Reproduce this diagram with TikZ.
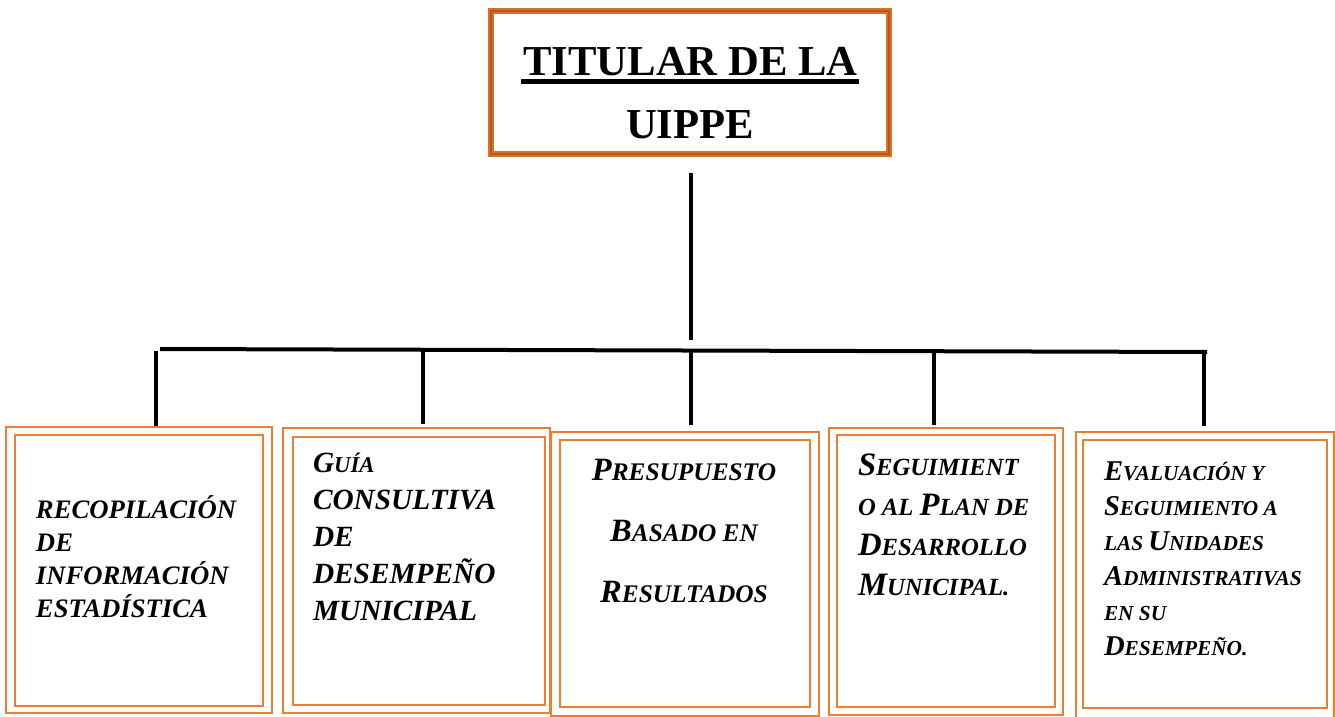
\documentclass[tikz,border=0pt]{standalone}
\usepackage{fontspec}
\setmainfont{Liberation Serif}
\definecolor{boxorange}{RGB}{237,125,49}
\definecolor{titorange}{RGB}{214,112,48}
\definecolor{titdark}{RGB}{190,84,20}
\newcommand\sm[2]{{\fontsize{#1}{#1}\selectfont #2}}
\tikzset{
  conn/.style={line width=3pt, black},
  outerb/.style={draw=boxorange, line width=1.5pt},
  innerb/.style={draw=boxorange, line width=2.2pt},
  txt/.style={inner sep=0pt, outer sep=0pt, text=black},
}
\begin{document}
\begin{tikzpicture}[x=0.75pt, y=-0.75pt]
\useasboundingbox (0,0) rectangle (1335,717);
% title box
\draw[titorange, line width=4.6pt] (491,11) rectangle (889,154);
\draw[titdark, line width=1.6pt] (491,11) rectangle (889,154);
\node[txt, minimum width=298pt, minimum height=107pt] (tit) at (690,82.5) {};
\node[txt, anchor=base, font=\bfseries\fontsize{32}{32}\selectfont] (t1) at (690.5,75) {TITULAR DE LA};
\node[txt, anchor=base, font=\bfseries\fontsize{32}{32}\selectfont] (t2) at (690,138) {UIPPE};
\draw[line width=3.4pt] ([yshift=-4.9pt,xshift=-1.5pt]t1.base west) -- ([yshift=-4.9pt,xshift=1pt]t1.base east);

% bottom boxes (outer)
\node[outerb, minimum width=199.5pt, minimum height=214.5pt] (b1) at (139,570) {};
\node[outerb, minimum width=200.25pt, minimum height=213.75pt] (b2) at (416.5,570.5) {};
\node[outerb, minimum width=201pt, minimum height=213pt] (b3) at (685,574) {};
\node[outerb, minimum width=175.5pt, minimum height=215.25pt] (b4) at (946,571.5) {};
\node[outerb, minimum width=193.5pt, minimum height=214.5pt] (b5) at (1205,575) {};
% inner frames
\draw[innerb] (15,435) rectangle (263,706);
\draw[innerb] (293,437) rectangle (545,705);
\draw[innerb] (560,440) rectangle (810,707);
\draw[innerb] (837,435) rectangle (1055,707);
\draw[innerb] (1083,440) rectangle (1327,708);

% connectors
\coordinate (top) at (691,173);
\coordinate (topend) at (691,340);
\coordinate (busL) at (160,349);
\coordinate (busR) at (1207,352);
\coordinate (d1) at (156,351);
\coordinate (d2) at (423,350);
\coordinate (d3) at (691,350);
\coordinate (d4) at (934,352);
\coordinate (d5) at (1204,352);
\draw[conn] (top) -- (topend);
\draw[conn] (busL) -- (busR);
\draw[conn] (d1) -- (d1 |- 0,426);
\draw[conn] (d2) -- (d2 |- 0,424);
\draw[conn] (d3) -- (d3 |- 0,425);
\draw[conn] (d4) -- (d4 |- 0,425);
\draw[conn] (d5) -- (d5 |- 0,426);

% texts (anchor = baseline of the last line)
\node[txt, anchor=base west, align=left, font=\bfseries\itshape\fontsize{20}{24.75}\selectfont] (x1) at (36,617)
  {RECOPILACIÓN\\DE\\INFORMACIÓN\\ESTADÍSTICA};
\node[txt, anchor=base west, align=left, font=\bfseries\itshape\fontsize{22}{27.75}\selectfont] (x2) at (313,620)
  {G\sm{17}{UÍA}\\CONSULTIVA\\DE\\DESEMPEÑO\\MUNICIPAL};
\node[txt, anchor=base, align=center, font=\bfseries\itshape\fontsize{24.4}{45.75}\selectfont] (x3) at (684,602)
  {P\sm{19}{RESUPUESTO}\\B\sm{19}{ASADO EN}\\R\sm{19}{ESULTADOS}};
\node[txt, anchor=base west, align=left, font=\bfseries\itshape\fontsize{24.5}{30}\selectfont] (x4) at (858,595)
  {S\sm{18.5}{EGUIMIENT}\\\sm{18.5}{O AL }P\sm{18.5}{LAN DE}\\D\sm{18.5}{ESARROLLO}\\M\sm{18.5}{UNICIPAL.}};
\node[txt, anchor=base west, align=left, font=\bfseries\itshape\fontsize{21.5}{26.25}\selectfont] (x5) at (1104,655)
  {E\sm{16}{VALUACIÓN Y}\\S\sm{16}{EGUIMIENTO A}\\\sm{16}{LAS }U\sm{16}{NIDADES}\\A\sm{16}{DMINISTRATIVAS}\\\sm{16}{EN SU}\\D\sm{16}{ESEMPEÑO.}};
\end{tikzpicture}
\end{document}
